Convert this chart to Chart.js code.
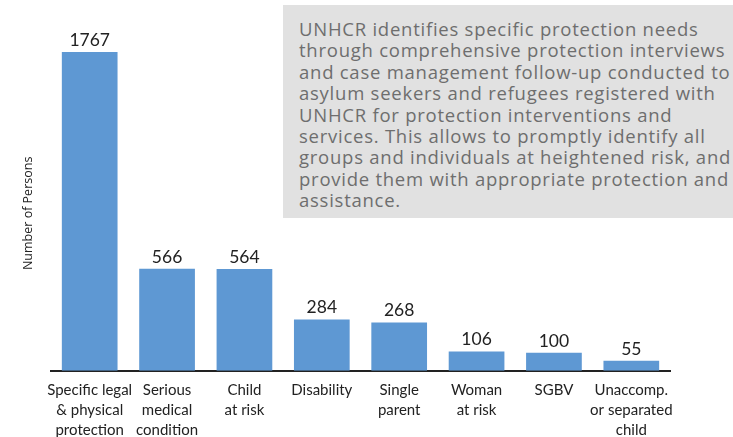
<!DOCTYPE html>
<html>
<head>
<meta charset="utf-8">
<script src="https://cdn.jsdelivr.net/npm/chart.js@4/dist/chart.umd.min.js"></script>
<style>
  html, body { margin: 0; padding: 0; background: #fff; }
  #wrap { position: relative; width: 733px; height: 437px; }
  #note {
    position: absolute; left: 283px; top: 5px; width: 450px; height: 213px;
    box-sizing: border-box; padding: 13px 0 0 16px; overflow: hidden;
    background: #e1e1e1; color: #6e6e6e; white-space: nowrap;
    font-family: "Open Sans", "Noto Sans", sans-serif; font-size: 18.5px;
    line-height: 21.4px; letter-spacing: 0.75px;
  }
</style>
</head>
<body>
<div id="wrap">
  <canvas id="needs" width="733" height="437"></canvas>
  <div id="note">UNHCR identifies specific protection needs<br>through comprehensive protection interviews<br>and case management follow-up conducted to<br>asylum seekers and refugees registered with<br>UNHCR for protection interventions and<br>services. This allows to promptly identify all<br>groups and individuals at heightened risk, and<br>provide them with appropriate protection and<br>assistance.</div>
</div>
<script>
// 범주 / 값
const categories = [
  ["Specific legal", "& physical", "protection"],
  ["Serious", "medical", "condition"],
  ["Child", "at risk"],
  ["Disability"],
  ["Single", "parent"],
  ["Woman", "at risk"],
  ["SGBV"],
  ["Unaccomp.", "or separated", "child"],
];
const persons = [1767, 566, 564, 284, 268, 106, 100, 55];
const yTitle = "Number of Persons";

const fontFamily = "Lato, 'Open Sans', sans-serif";

// 막대 위에 값 표시
const valueLabels = {
  id: "valueLabels",
  afterDatasetsDraw(chart) {
    const ctx = chart.ctx;
    const meta = chart.getDatasetMeta(0);
    ctx.save();
    ctx.fillStyle = "#222";
    ctx.font = "17.5px " + fontFamily;
    ctx.textAlign = "center";
    ctx.textBaseline = "bottom";
    meta.data.forEach((bar, idx) => {
      ctx.fillText(chart.data.datasets[0].data[idx], bar.x, bar.y - 3);
    });
    ctx.restore();
  },
};

// y축 제목 (세로, 차트 영역 가운데보다 조금 아래)
const yAxisTitle = {
  id: "yAxisTitle",
  afterDraw(chart) {
    const { ctx, chartArea } = chart;
    ctx.save();
    ctx.translate(chartArea.left - 23, (chartArea.top + chartArea.bottom) / 2 + 18);
    ctx.rotate(-Math.PI / 2);
    ctx.fillStyle = "#222";
    ctx.font = "12.5px 'Open Sans', sans-serif";
    ctx.textAlign = "center";
    ctx.textBaseline = "middle";
    ctx.fillText(yTitle, 0, 0);
    ctx.restore();
  },
};

const ctx = document.getElementById("needs").getContext("2d");
new Chart(ctx, {
  type: "bar",
  data: {
    labels: categories,
    datasets: [
      {
        data: persons,
        backgroundColor: "#5e98d3",
        borderWidth: 0,
        categoryPercentage: 0.72,
        barPercentage: 1,
      },
    ],
  },
  options: {
    responsive: false,
    animation: false,
    layout: { padding: { top: 20, right: 63, left: 51, bottom: -4 } },
    plugins: {
      legend: { display: false },
      tooltip: { enabled: false },
    },
    scales: {
      x: {
        grid: { display: false },
        border: { display: true, color: "#222", width: 2 },
        ticks: {
          color: "#222",
          font: { family: fontFamily, size: 15, lineHeight: 1.34 },
          maxRotation: 0,
          autoSkip: false,
          padding: 1,
        },
      },
      y: {
        display: false,
        min: 0,
        max: 1945,
      },
    },
  },
  plugins: [valueLabels, yAxisTitle],
});
</script>
</body>
</html>
